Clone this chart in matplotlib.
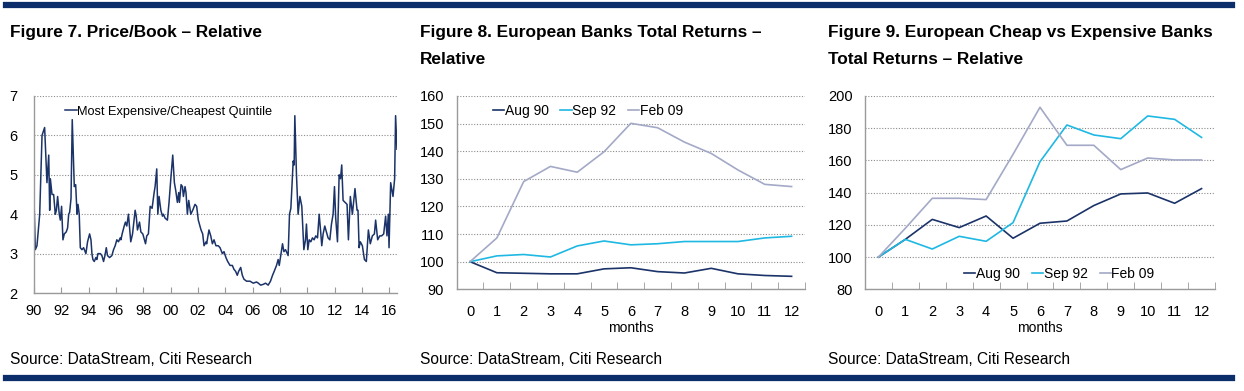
import matplotlib
matplotlib.use('Agg')
import matplotlib.pyplot as plt
from matplotlib.lines import Line2D

# Figure 7 - price/book, most expensive / cheapest quintile
pb_year = [
    1990.00, 1990.10, 1990.22, 1990.42, 1990.59, 1990.78, 1990.95, 1991.08, 1991.15, 1991.20,
    1991.32, 1991.44, 1991.56, 1991.64, 1991.73, 1991.85, 1991.93, 1992.02, 1992.12, 1992.22,
    1992.36, 1992.46, 1992.54, 1992.61, 1992.71, 1992.80, 1992.95, 1993.05, 1993.15, 1993.22,
    1993.31, 1993.39, 1993.51, 1993.63, 1993.80, 1993.92, 1994.07, 1994.17, 1994.24, 1994.31,
    1994.41, 1994.53, 1994.60, 1994.68, 1994.85, 1994.97, 1995.09, 1995.19, 1995.29, 1995.38,
    1995.53, 1995.70, 1995.82, 1995.94, 1996.06, 1996.18, 1996.31, 1996.36, 1996.45, 1996.60,
    1996.69, 1996.79, 1996.91, 1997.08, 1997.21, 1997.40, 1997.48, 1997.57, 1997.72, 1997.82,
    1997.96, 1998.16, 1998.25, 1998.37, 1998.50, 1998.64, 1998.79, 1998.86, 1998.98, 1999.06,
    1999.15, 1999.28, 1999.40, 1999.47, 1999.59, 1999.76, 1999.88, 2000.01, 2000.15, 2000.27,
    2000.37, 2000.49, 2000.59, 2000.64, 2000.76, 2000.86, 2000.93, 2001.05, 2001.12, 2001.22,
    2001.32, 2001.47, 2001.61, 2001.78, 2001.90, 2002.02, 2002.10, 2002.22, 2002.34, 2002.44,
    2002.59, 2002.63, 2002.80, 2002.93, 2003.05, 2003.17, 2003.31, 2003.48, 2003.61, 2003.78,
    2003.90, 2004.04, 2004.17, 2004.34, 2004.51, 2004.63, 2004.75, 2004.87, 2004.97, 2005.12,
    2005.24, 2005.36, 2005.55, 2005.80, 2006.04, 2006.28, 2006.41, 2006.58, 2006.77, 2006.94,
    2007.13, 2007.30, 2007.45, 2007.57, 2007.74, 2007.86, 2007.94, 2008.11, 2008.18, 2008.28,
    2008.40, 2008.59, 2008.69, 2008.79, 2008.96, 2009.03, 2009.08, 2009.20, 2009.32, 2009.45,
    2009.59, 2009.74, 2009.86, 2009.93, 2010.03, 2010.13, 2010.25, 2010.37, 2010.49, 2010.61,
    2010.74, 2010.86, 2010.96, 2011.05, 2011.15, 2011.27, 2011.39, 2011.51, 2011.64, 2011.76,
    2011.88, 2011.98, 2012.07, 2012.20, 2012.32, 2012.42, 2012.51, 2012.61, 2012.76, 2012.90,
    2013.00, 2013.14, 2013.29, 2013.48, 2013.63, 2013.70, 2013.78, 2013.87, 2014.02, 2014.17,
    2014.31, 2014.46, 2014.60, 2014.75, 2014.90, 2014.99, 2015.14, 2015.29, 2015.43, 2015.58,
    2015.72, 2015.82, 2015.92, 2015.97, 2016.09, 2016.26, 2016.38, 2016.45, 2016.55,
]
pb_ratio = [
    4.40, 3.10, 3.20, 4.00, 6.00, 6.20, 4.80, 5.50, 4.10, 4.90,
    4.50, 4.50, 4.00, 4.10, 4.45, 4.00, 3.85, 4.20, 3.35, 3.50,
    3.55, 3.65, 4.00, 4.05, 4.40, 6.40, 4.70, 4.75, 4.00, 4.25,
    4.00, 3.15, 3.10, 3.15, 3.00, 3.30, 3.50, 3.35, 3.00, 2.85,
    2.80, 2.90, 2.85, 3.00, 3.00, 2.95, 2.80, 2.95, 3.15, 2.95,
    2.90, 2.95, 3.10, 3.20, 3.35, 3.30, 3.40, 3.35, 3.50, 3.70,
    3.80, 3.70, 4.00, 3.30, 3.50, 4.10, 3.95, 3.60, 3.80, 3.55,
    3.50, 3.25, 3.45, 3.50, 4.20, 4.15, 4.55, 4.70, 5.15, 4.00,
    4.45, 4.10, 3.95, 4.00, 3.90, 3.85, 4.30, 4.90, 5.50, 4.80,
    4.60, 4.30, 4.55, 4.30, 4.75, 4.70, 4.45, 4.70, 4.55, 4.00,
    4.35, 4.00, 4.10, 4.25, 4.20, 3.85, 3.75, 3.60, 3.50, 3.20,
    3.30, 3.25, 3.60, 3.45, 3.25, 3.35, 3.20, 3.20, 3.15, 3.00,
    3.05, 2.90, 2.80, 2.70, 2.70, 2.60, 2.55, 2.45, 2.55, 2.65,
    2.45, 2.35, 2.30, 2.30, 2.25, 2.28, 2.25, 2.20, 2.22, 2.25,
    2.20, 2.30, 2.45, 2.55, 2.70, 2.85, 2.70, 3.10, 3.25, 3.05,
    3.10, 2.95, 4.00, 4.15, 5.35, 5.25, 6.50, 5.00, 4.00, 4.45,
    4.20, 3.10, 3.35, 3.75, 3.10, 3.35, 3.30, 3.40, 3.35, 3.45,
    3.40, 4.00, 3.60, 3.20, 3.50, 3.70, 3.55, 3.40, 3.35, 3.75,
    4.00, 4.70, 3.90, 3.30, 5.00, 4.90, 5.25, 4.35, 4.30, 4.25,
    3.35, 4.45, 4.00, 4.65, 4.10, 4.10, 3.15, 3.30, 3.20, 2.85,
    2.80, 3.60, 3.25, 3.45, 3.50, 3.85, 3.35, 3.45, 3.45, 3.50,
    3.95, 3.45, 4.00, 3.15, 4.80, 4.45, 4.90, 6.50, 5.65,
]
pb_label = 'Most Expensive/Cheapest Quintile'
year_ticks = list(range(1990, 2017, 2))

# Figures 8 and 9 - months after the trough
months = list(range(13))
series_names = ['Aug 90', 'Sep 92', 'Feb 09']

banks_aug90 = [100, 96.0, 95.8, 95.6, 95.6, 97.4, 97.8, 96.4, 95.9, 97.6, 95.6, 95.0, 94.7]
banks_sep92 = [100, 102.1, 102.6, 101.7, 105.7, 107.5, 106.1, 106.5, 107.3, 107.3, 107.3, 108.6, 109.2]
banks_feb09 = [100, 108.6, 129.0, 134.5, 132.4, 139.8, 150.1, 148.5, 143.3, 139.2, 133.2, 128.0, 127.2]

cheap_aug90 = [100, 111.0, 123.4, 118.3, 125.5, 111.7, 121.0, 122.4, 132.0, 139.2, 139.8, 133.4, 142.5]
cheap_sep92 = [100, 111.0, 105.0, 112.9, 109.8, 121.4, 159.2, 182.0, 175.8, 173.5, 187.6, 185.5, 174.3]
cheap_feb09 = [100, 117.9, 136.5, 136.5, 135.7, 163.8, 193.0, 169.4, 169.4, 154.3, 161.5, 160.3, 160.3]

navy = '#1b3368'
cyan = '#1fb8e3'
grey = '#a3a9c6'
rule = '#0b2e6a'
axis_col = '#9a9a9a'

plt.rcParams['font.family'] = ['Liberation Sans', 'DejaVu Sans']
plt.rcParams['font.size'] = 10

fig = plt.figure(figsize=(12.44, 3.91), dpi=100)


def style_axes(ax):
    for s in ['top', 'right']:
        ax.spines[s].set_visible(False)
    for s in ['left', 'bottom']:
        ax.spines[s].set_color(axis_col)
        ax.spines[s].set_linewidth(1.0)
    ax.yaxis.grid(True, color='#8c8c8c', linestyle=(0, (1, 1.5)), linewidth=0.8)
    ax.set_axisbelow(True)
    ax.tick_params(axis='y', length=0, pad=9, labelsize=10.5)


# --- Figure 7
ax1 = fig.add_axes([0.0273, 0.2506, 0.2918, 0.5039])
ax1.plot(pb_year, pb_ratio, color=navy, lw=1.1, label=pb_label)
ax1.set_xlim(1990, 2016.55)
ax1.set_ylim(2, 7)
ax1.set_yticks(range(2, 8))
ax1.set_xticks(year_ticks)
ax1.set_xticklabels([f'{y % 100:02d}' for y in year_ticks])
style_axes(ax1)
ax1.tick_params(axis='y', pad=12)
ax1.tick_params(axis='x', direction='in', length=4, color=axis_col, pad=8, labelsize=10.5)
ax1.legend(loc='upper left', bbox_to_anchor=(0.06, 1.0), frameon=False, fontsize=9.2,
           handlelength=0.9, handletextpad=0.05, borderaxespad=0.35)

# --- Figures 8 and 9
def month_panel(rect, aug, sep, feb, ylim, yticks, legend_loc, legend_anchor):
    ax = fig.add_axes(rect)
    for vals, col in zip([aug, sep, feb], [navy, cyan, grey]):
        ax.plot(months, vals, color=col, lw=1.2)
    ax.set_xlim(-0.5, 12.5)
    ax.set_ylim(*ylim)
    ax.set_yticks(yticks)
    ax.set_xticks(months)
    ax.set_xticks([m - 0.5 for m in months] + [12.5], minor=True)
    style_axes(ax)
    ax.tick_params(axis='x', which='major', length=0, pad=11, labelsize=10.5)
    ax.tick_params(axis='x', which='minor', direction='in', length=5, color=axis_col)
    ax.set_xlabel('months', fontsize=10, labelpad=2)
    handles = [Line2D([], [], color=c, lw=1.2) for c in [navy, cyan, grey]]
    ax.legend(handles, series_names, loc=legend_loc, bbox_to_anchor=legend_anchor, ncol=3,
              frameon=False, fontsize=10, handlelength=0.8, handletextpad=0.05,
              columnspacing=0.85, borderaxespad=0.2)
    return ax


ax2 = month_panel([0.3671, 0.2601, 0.2800, 0.4944], banks_aug90, banks_sep92, banks_feb09,
                  (90, 160), range(90, 161, 10), 'upper left', (0.08, 1.0))
ax3 = month_panel([0.6953, 0.2601, 0.2814, 0.4944], cheap_aug90, cheap_sep92, cheap_feb09,
                  (80, 200), range(80, 201, 20), 'lower left', (0.26, 0.0))

# titles, sources and rules
titles = ['Figure 7. Price/Book \u2013 Relative',
          'Figure 8. European Banks Total Returns \u2013\nRelative',
          'Figure 9. European Cheap vs Expensive Banks\nTotal Returns \u2013 Relative']
title_x = [10, 420, 828]
for tx, t in zip(title_x, titles):
    fig.text(tx / 1244, 1 - 25 / 391, t, ha='left', va='top', fontsize=12.4, fontweight='bold',
             linespacing=2.0)
    fig.text(tx / 1244, 1 - 359 / 391, 'Source: DataStream, Citi Research', ha='left',
             va='center', fontsize=11.2)

fig.add_artist(Line2D([6 / 1244, 1232 / 1244], [1 - 4.5 / 391] * 2, color=rule, lw=4.5))
fig.add_artist(Line2D([6 / 1244, 1232 / 1244], [1 - 378 / 391] * 2, color=rule, lw=4.5))

fig.savefig('out.png', dpi=100)
